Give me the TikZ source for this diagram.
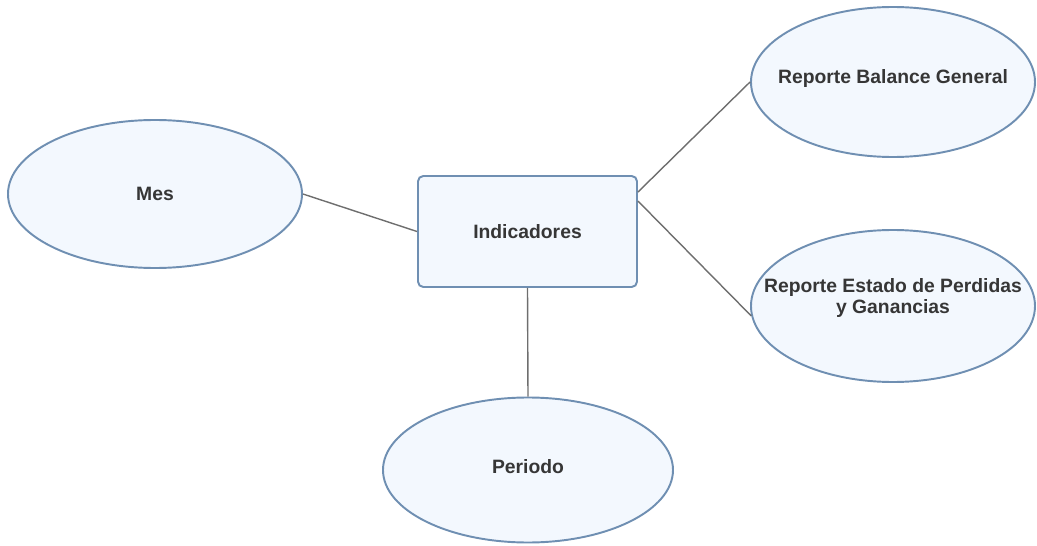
\documentclass[tikz,border=0pt]{standalone}
\usepackage{fontspec}
\setmainfont{Liberation Sans}
\usepackage{tikz}
\usetikzlibrary{shapes.geometric}

\definecolor{boxfill}{HTML}{F3F8FE}
\definecolor{boxline}{HTML}{6F8FB2}
\definecolor{linkgray}{HTML}{6E6E6E}
\definecolor{txtgray}{HTML}{363636}

\tikzset{
	txt/.style={align=center, font=\fontsize{11}{12.5}\selectfont\bfseries, text=txtgray},
	attr/.style={ellipse, draw=boxline, fill=boxfill, line width=1.1pt, inner sep=0pt},
	entity/.style={rectangle, rounded corners=3pt, draw=boxline, fill=boxfill, line width=1.1pt,
		minimum width=4.38cm, minimum height=2.22cm, txt},
	link/.style={draw=linkgray, line width=0.8pt}
}

\begin{document}
\begin{tikzpicture}
	\useasboundingbox (0,0) rectangle (20.74,10.9);

	%entity
	\node[entity] (ind) at (10.55,6.27) {Indicadores};

	%attributes (ellipse first, text on top)
	\node[attr, minimum width=5.88cm, minimum height=2.96cm] (mes) at (3.10,7.02) {};
	\node[txt] (mest) at (3.10,7.02) {Mes};
	\node[attr, minimum width=5.68cm, minimum height=3.0cm] (rbg) at (17.86,9.26) {};
	\node[txt] (rbgt) at (17.86,9.32) {Reporte Balance General};
	\node[attr, minimum width=5.68cm, minimum height=3.04cm] (rpg) at (17.86,4.78) {};
	\node[txt] (rpgt) at (17.86,4.94) {Reporte Estado de Perdidas\\y Ganancias};
	\node[attr, minimum width=5.80cm, minimum height=2.90cm] (per) at (10.56,1.50) {};
	\node[txt] (pert) at (10.56,1.56) {Periodo};

	%links
	\draw[link] (mes.east) -- (ind.west);
	\draw[link] ([yshift=-0.34cm]ind.north east) -- (rbg.west);
	\draw[link] ([yshift=-0.52cm]ind.north east) -- (rpg.184);
	\draw[link] (ind.south) -- (per.north);
\end{tikzpicture}
\end{document}
